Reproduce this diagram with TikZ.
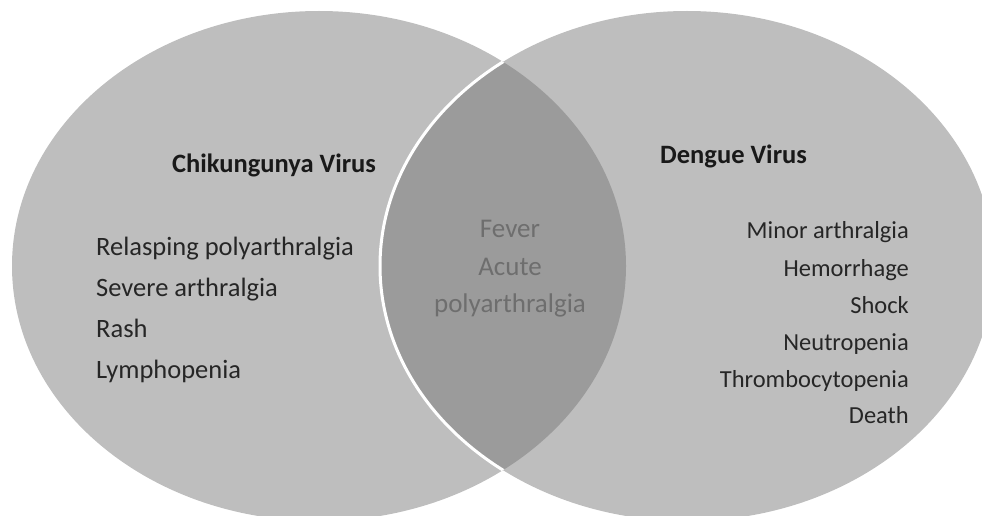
\documentclass[tikz,border=0pt]{standalone}
\usepackage{fontspec}
\setmainfont{Carlito}
\usepackage{tikz}
\usetikzlibrary{positioning}
\definecolor{venngray}{HTML}{BEBEBE}
\definecolor{overlapgray}{HTML}{9B9B9B}
\definecolor{sharedtext}{HTML}{6E6E6E}
\tikzstyle{heading} = [
    font=\bfseries\fontsize{26.5}{30}\selectfont,
    text=black!90,
    inner sep=0pt
]
\tikzstyle{item} = [
    font=\fontsize{24.5}{28}\selectfont,
    text=black!85,
    inner sep=0pt
]
\tikzstyle{bigitem} = [
    item,
    font=\fontsize{26.5}{30}\selectfont
]
\tikzstyle{shared} = [
    item,
    font=\fontsize{27}{31}\selectfont,
    text=sharedtext
]

\begin{document}
\begin{tikzpicture}[x=1pt, y=-1pt]
    \useasboundingbox (0,0) rectangle (982,516);

    % Both sets
    \fill[venngray] (319,266) ellipse [x radius=307, y radius=255];
    \fill[venngray] (687,266) ellipse [x radius=307, y radius=255];

    % Overlap, with the white rim of the right set
    \begin{scope}
        \clip (319,266) ellipse [x radius=307, y radius=255];
        \fill[overlapgray] (687,266) ellipse [x radius=307, y radius=255];
        \draw[white, line width=3] (687,266) ellipse [x radius=307, y radius=255];
    \end{scope}

    % Chikungunya side
    \node[heading, anchor=base west] (chik) at (172,172) {Chikungunya Virus};
    \node[bigitem, anchor=base west] (relapse) at (96,255) {Relasping polyarthralgia};
    \node[bigitem, anchor=base west] (severe) at (96,296) {Severe arthralgia};
    \node[bigitem, anchor=base west] (rash) at (96,337) {Rash};
    \node[bigitem, anchor=base west] (lympho) at (96,378) {Lymphopenia};

    % Dengue side
    \node[heading, anchor=base west] (dengue) at (660,163) {Dengue Virus};
    \node[item, anchor=base east] (minor) at (909,238) {Minor arthralgia};
    \node[item, anchor=base east] (hemo) at (909,276) {Hemorrhage};
    \node[item, anchor=base east] (shock) at (909,313) {Shock};
    \node[item, anchor=base east] (neutro) at (909,350) {Neutropenia};
    \node[item, anchor=base east] (thrombo) at (909,387) {Thrombocytopenia};
    \node[item, anchor=base east] (death) at (909,423) {Death};

    % Shared symptoms
    \node[shared, anchor=base] (fever) at (510,237) {Fever};
    \node[shared, anchor=base] (acute) at (510,275) {Acute};
    \node[shared, anchor=base] (polyarth) at (510,312) {polyarthralgia};
\end{tikzpicture}
\end{document}
